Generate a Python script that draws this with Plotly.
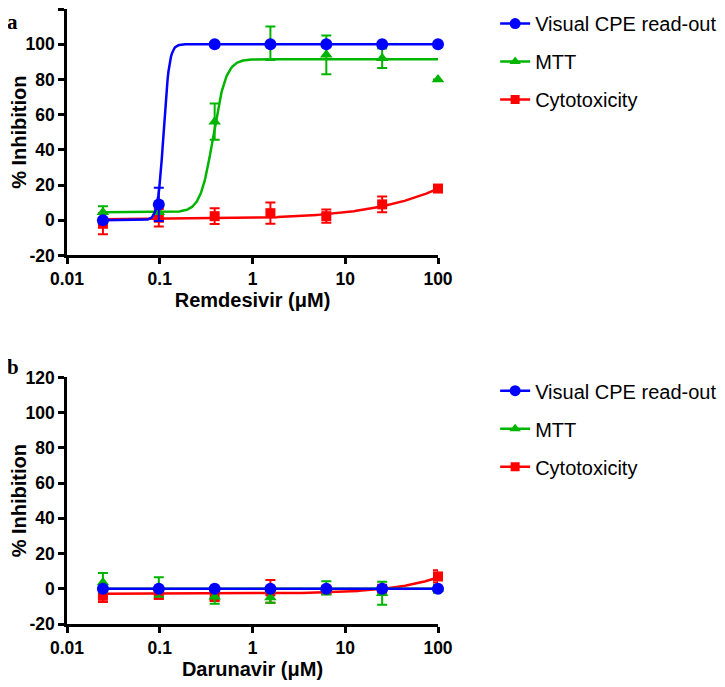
import numpy as np
import plotly.graph_objects as go

# concentrations (uM), 4-fold dilution series
conc = [0.0244, 0.0977, 0.391, 1.56, 6.25, 25, 100]

# panel a: Remdesivir
rem_cpe = [0, 9, 100, 100, 100, 100, 100]
rem_cpe_err = [0, 9.5, 0, 0, 0, 0, 0]
rem_mtt = [4.5, 4.5, 56, 100.5, 94, 92, 80]
rem_mtt_err = [3.5, 0, 10.3, 9.5, 11, 5.5, 0]
rem_cyto = [-2, 1.4, 2.3, 4, 2.3, 9, 18]
rem_cyto_err = [6, 5, 4.5, 6, 3.8, 4.5, 1]

# panel b: Darunavir
dar_cpe = [0, 0, 0, 0, 0, 0, 0]
dar_cpe_err = [0, 0, 0, 0, 0, 0, 0]
dar_mtt = [3.5, 1, -4.5, -5, 0.5, -2.5, 0]
dar_mtt_err = [5.5, 5.5, 4, 3, 3.8, 6.5, 2.3]
dar_cyto = [-4, -3.5, -4, -1.5, -0.8, 0, 7]
dar_cyto_err = [3.5, 2, 3, 6.5, 2, 1, 3.5]

# fitted 4PL parameters: bottom, top, IC50, hill
rem_cpe_fit = [0, 100, 0.11, 14]
rem_mtt_fit = [4.6, 91.5, 0.378, 6.3]
rem_cyto_fit = [0.5, 100, 920, 0.7]
dar_cpe_fit = [0, 0, 1, 1]
dar_mtt_fit = [0, 0, 1, 1]
dar_cyto_fit = [-2.8, 100, 1210, 0.93]

labels = ["Visual CPE read-out", "MTT", "Cytotoxicity"]
colors = ["#0000ff", "#00b400", "#ff0000"]
symbols = ["circle", "triangle-up", "square"]
sizes = [12, 11, 10]

x_ticks = [0.01, 0.1, 1, 10, 100]
x_ticktext = ["0.01", "0.1", "1", "10", "100"]
y_ticks = [-20, 0, 20, 40, 60, 80, 100, 120]
y_ticktext = ["-20", "0", "20", "40", "60", "80", "100", "120"]

xfit = np.logspace(np.log10(conc[0]), 2, 400)


def four_pl(p, x):
    bottom, top, ic50, hill = p
    return bottom + (top - bottom) / (1 + (ic50 / x) ** hill)


fig = go.Figure()

panels = [
    ("x", "y", "legend",
     [rem_cpe, rem_mtt, rem_cyto], [rem_cpe_err, rem_mtt_err, rem_cyto_err],
     [rem_cpe_fit, rem_mtt_fit, rem_cyto_fit]),
    ("x2", "y2", "legend2",
     [dar_cpe, dar_mtt, dar_cyto], [dar_cpe_err, dar_mtt_err, dar_cyto_err],
     [dar_cpe_fit, dar_mtt_fit, dar_cyto_fit]),
]

for xa, ya, leg, vals, errs, fits in panels:
    # draw red first, blue last (on top)
    for i in [2, 1, 0]:
        fig.add_trace(go.Scatter(
            x=xfit, y=four_pl(fits[i], xfit), mode="lines",
            line=dict(color=colors[i], width=2.5),
            xaxis=xa, yaxis=ya, showlegend=False, hoverinfo="skip"))
        fig.add_trace(go.Scatter(
            x=conc, y=vals[i], mode="markers",
            marker=dict(color=colors[i], symbol=symbols[i], size=sizes[i]),
            error_y=dict(type="data", array=errs[i], color=colors[i],
                         thickness=2, width=5),
            cliponaxis=False, xaxis=xa, yaxis=ya, showlegend=False))
    # legend entries (line + marker)
    for i in range(3):
        fig.add_trace(go.Scatter(
            x=[None], y=[None], mode="lines+markers", name=labels[i],
            line=dict(color=colors[i], width=2.5),
            marker=dict(color=colors[i], symbol=symbols[i], size=sizes[i] - 1),
            xaxis=xa, yaxis=ya, legend=leg, legendgroup=leg + str(i)))

tickfont = dict(family="Liberation Sans, Arial", size=17.5, color="black")
titlefont = dict(family="Liberation Sans, Arial", size=20, color="black", weight="bold")

xcommon = dict(type="log", range=[-2, 2], tickvals=x_ticks,
               ticktext=["<b>%s</b>" % t for t in x_ticktext], showgrid=False,
               zeroline=False, showline=True, linecolor="black", linewidth=2.5,
               ticks="outside", ticklen=6, tickwidth=2.5, tickcolor="black",
               tickfont=tickfont, title_font=titlefont, title_standoff=5,
               automargin=False)
ycommon = dict(range=[-20, 120], tickvals=y_ticks,
               ticktext=["<b>%s</b>" % t for t in y_ticktext], showgrid=False,
               zeroline=False, showline=True, linecolor="black", linewidth=2.5,
               ticks="outside", ticklen=6, tickwidth=2.5, tickcolor="black",
               tickfont=tickfont, title_font=titlefont, title_text="% Inhibition",
               title_standoff=6, automargin=False)

legfont = dict(family="Liberation Sans, Arial", size=20, color="black")
letterfont = dict(family="Liberation Serif, Times New Roman", size=21,
                  color="black", weight="bold")

# the page puts the figure 8 px in from the top-left corner
fig.update_layout(
    width=717, height=679,
    margin=dict(l=59, r=287, t=1, b=63, autoexpand=False),
    paper_bgcolor="white", plot_bgcolor="white",
    xaxis=dict(xcommon, domain=[0, 1], anchor="y", title_text="Remdesivir (μM)"),
    yaxis=dict(ycommon, domain=[0.5993, 1], anchor="x"),
    xaxis2=dict(xcommon, domain=[0, 1], anchor="y2", title_text="Darunavir (μM)"),
    yaxis2=dict(ycommon, domain=[0, 0.401], anchor="x2"),
    legend=dict(x=1.154, y=1.008, xanchor="left", yanchor="top", font=legfont,
                traceorder="grouped", tracegroupgap=9, bgcolor="rgba(0,0,0,0)"),
    legend2=dict(x=1.154, y=0.411, xanchor="left", yanchor="top", font=legfont,
                 traceorder="grouped", tracegroupgap=9, bgcolor="rgba(0,0,0,0)"),
    annotations=[
        dict(text="a", x=-0.148, y=1.002, xref="paper", yref="paper",
             xanchor="center", yanchor="top", showarrow=False, font=letterfont),
        dict(text="b", x=-0.1456, y=0.4184, xref="paper", yref="paper",
             xanchor="center", yanchor="middle", showarrow=False, font=letterfont),
    ],
)

fig.write_html("out.html")
